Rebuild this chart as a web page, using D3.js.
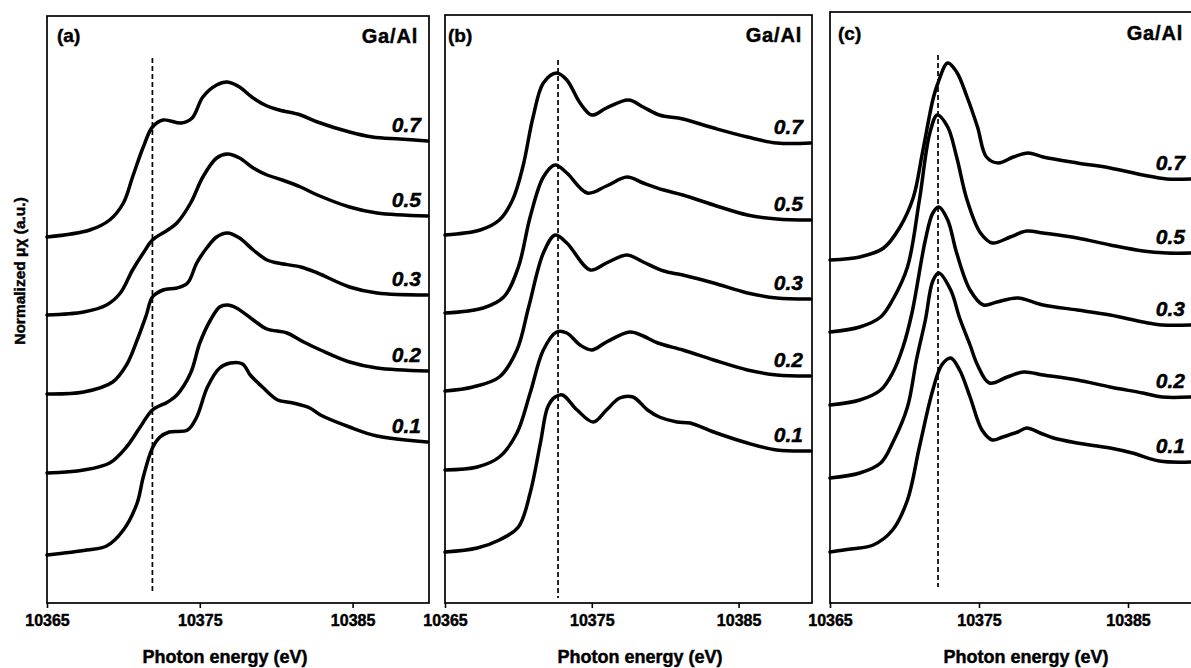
<!DOCTYPE html>
<html>
<head>
<meta charset="utf-8">
<script src="https://cdn.jsdelivr.net/npm/d3@7"></script>
<style>
  html, body { margin: 0; padding: 0; background: #fff; }
  svg { display: block; }
  text { font-family: "Liberation Sans", Arial, sans-serif; fill: #000; stroke: #000; stroke-width: 0.45px; }
</style>
</head>
<body>
<svg id="chart" width="1191" height="668"></svg>
<script>
// ---------- data ----------
const panelNames = ["(a)", "(b)", "(c)"];
const seriesLabels = ["0.7", "0.5", "0.3", "0.2", "0.1"];
const xTicks = [10365, 10375, 10385];
const xDomain = [10365, 10390];
const yMax = [5.87, 5.88, 5.91];
const refEnergy = [10371.9, 10372.7, 10372.25];
const refTop = [5.45, 5.43, 5.48];
const refBottom = [0.12, 0.05, 0.16];

// panel (a)
const a07 = [[10365.0,3.66],[10367.8,3.73],[10369.1,3.83],[10370.0,4.00],[10370.6,4.26],[10371.3,4.56],[10371.9,4.76],[10372.6,4.83],[10373.8,4.80],[10374.5,4.85],[10375.2,5.06],[10376.1,5.18],[10376.8,5.21],[10377.6,5.16],[10378.4,5.06],[10379.4,4.97],[10380.2,4.93],[10381.6,4.88],[10382.7,4.81],[10384.8,4.71],[10386.3,4.66],[10388.1,4.64],[10389.9,4.62]];
const a05 = [[10365.0,2.88],[10367.4,2.91],[10368.9,2.98],[10369.8,3.10],[10370.6,3.33],[10371.3,3.50],[10371.9,3.63],[10372.9,3.73],[10373.5,3.80],[10374.4,4.00],[10375.2,4.26],[10376.1,4.45],[10376.8,4.49],[10377.6,4.45],[10378.5,4.35],[10379.4,4.28],[10380.4,4.23],[10381.6,4.16],[10382.7,4.08],[10384.8,3.96],[10386.6,3.90],[10389.9,3.87]];
const a03 = [[10365.0,2.09],[10367.4,2.11],[10369.3,2.21],[10370.2,2.38],[10370.9,2.63],[10371.5,2.88],[10371.9,3.06],[10372.6,3.13],[10373.5,3.15],[10374.2,3.20],[10374.8,3.40],[10375.5,3.56],[10376.1,3.66],[10376.8,3.70],[10377.6,3.65],[10378.5,3.53],[10379.4,3.43],[10380.1,3.40],[10381.6,3.36],[10382.7,3.30],[10384.8,3.16],[10386.6,3.10],[10389.9,3.08]];
const a02 = [[10365.0,1.30],[10367.4,1.33],[10369.1,1.40],[10370.2,1.56],[10371.1,1.76],[10371.9,1.93],[10372.9,2.01],[10373.5,2.08],[10374.4,2.30],[10375.0,2.60],[10375.7,2.83],[10376.3,2.96],[10376.8,2.98],[10377.4,2.95],[10378.5,2.83],[10379.4,2.74],[10380.7,2.70],[10381.8,2.61],[10382.9,2.53],[10384.8,2.41],[10386.6,2.35],[10389.9,2.32]];
const a01 = [[10365.0,0.48],[10367.6,0.53],[10368.9,0.57],[10370.0,0.73],[10370.9,1.00],[10371.3,1.26],[10371.9,1.55],[10372.4,1.66],[10373.0,1.71],[10374.2,1.73],[10374.8,1.86],[10375.5,2.16],[10376.3,2.35],[10377.0,2.40],[10377.8,2.39],[10378.3,2.28],[10379.1,2.16],[10380.1,2.03],[10381.1,2.00],[10382.2,1.95],[10382.9,1.88],[10384.8,1.76],[10386.6,1.67],[10389.9,1.61]];

// panel (b)
const b07 = [[10365.0,3.68],[10367.4,3.73],[10368.7,3.83],[10369.6,4.03],[10370.3,4.36],[10371.0,4.86],[10371.7,5.20],[10372.6,5.30],[10373.3,5.23],[10374.2,5.00],[10375.0,4.88],[10376.0,4.95],[10377.5,5.03],[10378.5,4.96],[10379.6,4.88],[10381.2,4.84],[10383.3,4.75],[10385.6,4.66],[10387.6,4.60],[10389.9,4.60]];
const b05 = [[10365.0,2.90],[10367.6,2.95],[10369.0,3.06],[10370.0,3.36],[10370.8,3.86],[10371.7,4.26],[10372.5,4.38],[10373.3,4.30],[10374.7,4.10],[10376.0,4.17],[10377.4,4.26],[10378.5,4.20],[10379.9,4.13],[10381.2,4.08],[10383.3,3.98],[10385.6,3.88],[10387.6,3.84],[10389.9,3.83]];
const b03 = [[10365.0,2.12],[10366.9,2.16],[10368.7,2.26],[10369.9,2.53],[10370.7,2.96],[10371.7,3.50],[10372.5,3.68],[10373.3,3.60],[10374.9,3.33],[10376.0,3.40],[10377.4,3.48],[10378.5,3.41],[10379.9,3.32],[10381.2,3.28],[10383.3,3.20],[10385.6,3.10],[10387.6,3.05],[10389.9,3.04]];
const b02 = [[10365.0,1.33],[10367.2,1.36],[10368.7,1.46],[10369.9,1.70],[10370.8,2.10],[10371.7,2.53],[10372.6,2.71],[10373.3,2.70],[10374.2,2.58],[10375.0,2.53],[10376.0,2.61],[10377.6,2.71],[10378.5,2.67],[10379.5,2.60],[10381.2,2.53],[10383.3,2.43],[10385.6,2.33],[10387.6,2.28],[10389.9,2.27]];
const b01 = [[10365.0,0.51],[10367.2,0.55],[10368.7,0.63],[10370.0,0.76],[10370.8,1.10],[10371.5,1.60],[10372.0,1.96],[10372.5,2.06],[10373.0,2.08],[10374.0,1.93],[10375.1,1.81],[10376.0,1.93],[10376.9,2.05],[10377.8,2.06],[10378.8,1.93],[10379.6,1.86],[10380.8,1.81],[10381.7,1.80],[10383.3,1.71],[10385.6,1.60],[10387.6,1.53],[10389.9,1.52]];

// panel (c)
const c07 = [[10365.0,3.43],[10367.0,3.46],[10368.6,3.55],[10369.7,3.76],[10370.6,4.06],[10371.2,4.50],[10371.9,5.03],[10372.2,5.18],[10372.9,5.40],[10373.5,5.31],[10374.2,5.06],[10374.9,4.76],[10375.5,4.46],[10376.3,4.40],[10377.3,4.46],[10378.3,4.50],[10379.3,4.46],[10381.6,4.40],[10383.8,4.35],[10386.0,4.28],[10387.6,4.24],[10389.2,4.24]];
const c05 = [[10365.0,2.71],[10367.0,2.76],[10368.4,2.86],[10369.2,3.03],[10370.2,3.36],[10371.0,4.03],[10371.7,4.70],[10372.2,4.88],[10372.9,4.76],[10373.5,4.46],[10374.2,4.03],[10375.1,3.70],[10375.9,3.60],[10377.1,3.66],[10378.2,3.72],[10379.3,3.70],[10381.6,3.65],[10383.8,3.58],[10386.0,3.52],[10387.6,3.50],[10389.2,3.50]];
const c03 = [[10365.0,1.98],[10367.0,2.03],[10368.4,2.13],[10369.2,2.30],[10369.9,2.56],[10370.5,2.90],[10371.4,3.63],[10371.9,3.90],[10372.3,3.96],[10372.9,3.83],[10373.5,3.50],[10374.4,3.13],[10375.3,2.98],[10376.2,3.01],[10377.6,3.05],[10379.3,2.98],[10381.6,2.93],[10383.8,2.88],[10386.0,2.81],[10387.3,2.78],[10389.2,2.78]];
const c02 = [[10365.0,1.25],[10367.0,1.30],[10368.4,1.40],[10369.2,1.60],[10370.2,1.96],[10370.8,2.43],[10371.4,2.83],[10371.9,3.22],[10372.3,3.30],[10373.1,3.13],[10373.7,2.85],[10374.4,2.58],[10374.9,2.38],[10375.7,2.20],[10376.9,2.26],[10378.0,2.31],[10379.3,2.28],[10381.6,2.23],[10383.8,2.16],[10386.0,2.10],[10387.3,2.06],[10389.2,2.06]];
const c01 = [[10365.0,0.51],[10366.4,0.54],[10367.9,0.58],[10369.2,0.73],[10370.2,1.03],[10371.0,1.56],[10371.9,2.13],[10372.5,2.38],[10373.1,2.45],[10373.7,2.33],[10374.4,2.06],[10375.2,1.73],[10375.9,1.63],[10376.6,1.66],[10377.6,1.71],[10378.2,1.75],[10379.1,1.70],[10380.0,1.65],[10381.6,1.60],[10383.8,1.55],[10385.3,1.50],[10387.1,1.42],[10389.2,1.41]];

const panelSeries = [
  [a07, a05, a03, a02, a01],
  [b07, b05, b03, b02, b01],
  [c07, c05, c03, c02, c01]
];

// ---------- layout ----------
const layout = [
  { x0: 47,  x1: 429,    top: 16, nameX: 57,  nameY: 42, gaX: 418,  gaY: 43, labelX: 421,  titleX: 225 },
  { x0: 445, x1: 812,    top: 15, nameX: 448, nameY: 42, gaX: 802,  gaY: 42, labelX: 803,  titleX: 640 },
  { x0: 830, x1: 1202.5, top: 12, nameX: 838, nameY: 40, gaX: 1183, gaY: 40, labelX: 1185, titleX: 1026 }
];
const bottom = 603;

const svg = d3.select("#chart");

panelNames.forEach((name, i) => {
  const L = layout[i];
  const x = d3.scaleLinear().domain(xDomain).range([L.x0, L.x1]);
  const y = d3.scaleLinear().domain([0, yMax[i]]).range([bottom, L.top]);
  const g = svg.append("g");

  g.append("rect")
    .attr("x", x(xDomain[0])).attr("y", y(yMax[i]))
    .attr("width", x(xDomain[1]) - x(xDomain[0]))
    .attr("height", y(0) - y(yMax[i]))
    .attr("fill", "#fff");

  const axis = d3.axisBottom(x).tickValues(xTicks).tickSize(5).tickPadding(7).tickFormat(d3.format("d"));
  const ax = g.append("g").attr("transform", `translate(0,${y(0)})`).call(axis);
  ax.select(".domain").remove();
  ax.selectAll(".tick line").attr("stroke", "#000").attr("stroke-width", 1.6);
  ax.selectAll(".tick text")
    .style("font-family", "'Liberation Sans', Arial, sans-serif")
    .style("font-size", "16px").style("font-weight", "bold")
    .attr("fill", "#000").attr("stroke", "#000").attr("stroke-width", 0.4);

  g.append("rect")
    .attr("x", x(xDomain[0])).attr("y", y(yMax[i]))
    .attr("width", x(xDomain[1]) - x(xDomain[0]))
    .attr("height", y(0) - y(yMax[i]))
    .attr("fill", "none").attr("stroke", "#000").attr("stroke-width", 1.7);

  g.append("line")
    .attr("x1", x(refEnergy[i])).attr("x2", x(refEnergy[i]))
    .attr("y1", y(refTop[i])).attr("y2", y(refBottom[i]))
    .attr("stroke", "#000").attr("stroke-width", 1.7)
    .attr("stroke-dasharray", "5,3");

  const line = d3.line()
    .x(d => x(d[0])).y(d => y(d[1]))
    .curve(d3.curveCatmullRom.alpha(0.5));
  panelSeries[i].forEach((s, k) => {
    g.append("path")
      .attr("d", line(s))
      .attr("fill", "none").attr("stroke", "#000")
      .attr("stroke-width", 3.5)
      .attr("stroke-linejoin", "round").attr("stroke-linecap", "round");
    const last = s[s.length - 1];
    g.append("text")
      .attr("x", L.labelX).attr("y", y(last[1]) - 9)
      .attr("text-anchor", "end")
      .style("font-size", "21px").style("font-weight", "bold").style("font-style", "italic")
      .text(seriesLabels[k]);
  });

  g.append("text").attr("x", L.nameX).attr("y", L.nameY)
    .style("font-size", "19px").style("font-weight", "bold").text(name);
  g.append("text").attr("x", L.gaX).attr("y", L.gaY).attr("text-anchor", "end")
    .style("font-size", "20px").style("font-weight", "bold").attr("letter-spacing", "0.8")
    .text("Ga/Al");

  g.append("text").attr("x", L.titleX).attr("y", 663).attr("text-anchor", "middle")
    .style("font-size", "18px").style("font-weight", "bold")
    .text("Photon energy (eV)");
});

svg.append("text")
  .attr("transform", "translate(25,271) rotate(-90)")
  .attr("text-anchor", "middle")
  .style("font-size", "15.5px").style("font-weight", "bold")
  .text("Normalized μχ (a.u.)");
</script>
</body>
</html>
